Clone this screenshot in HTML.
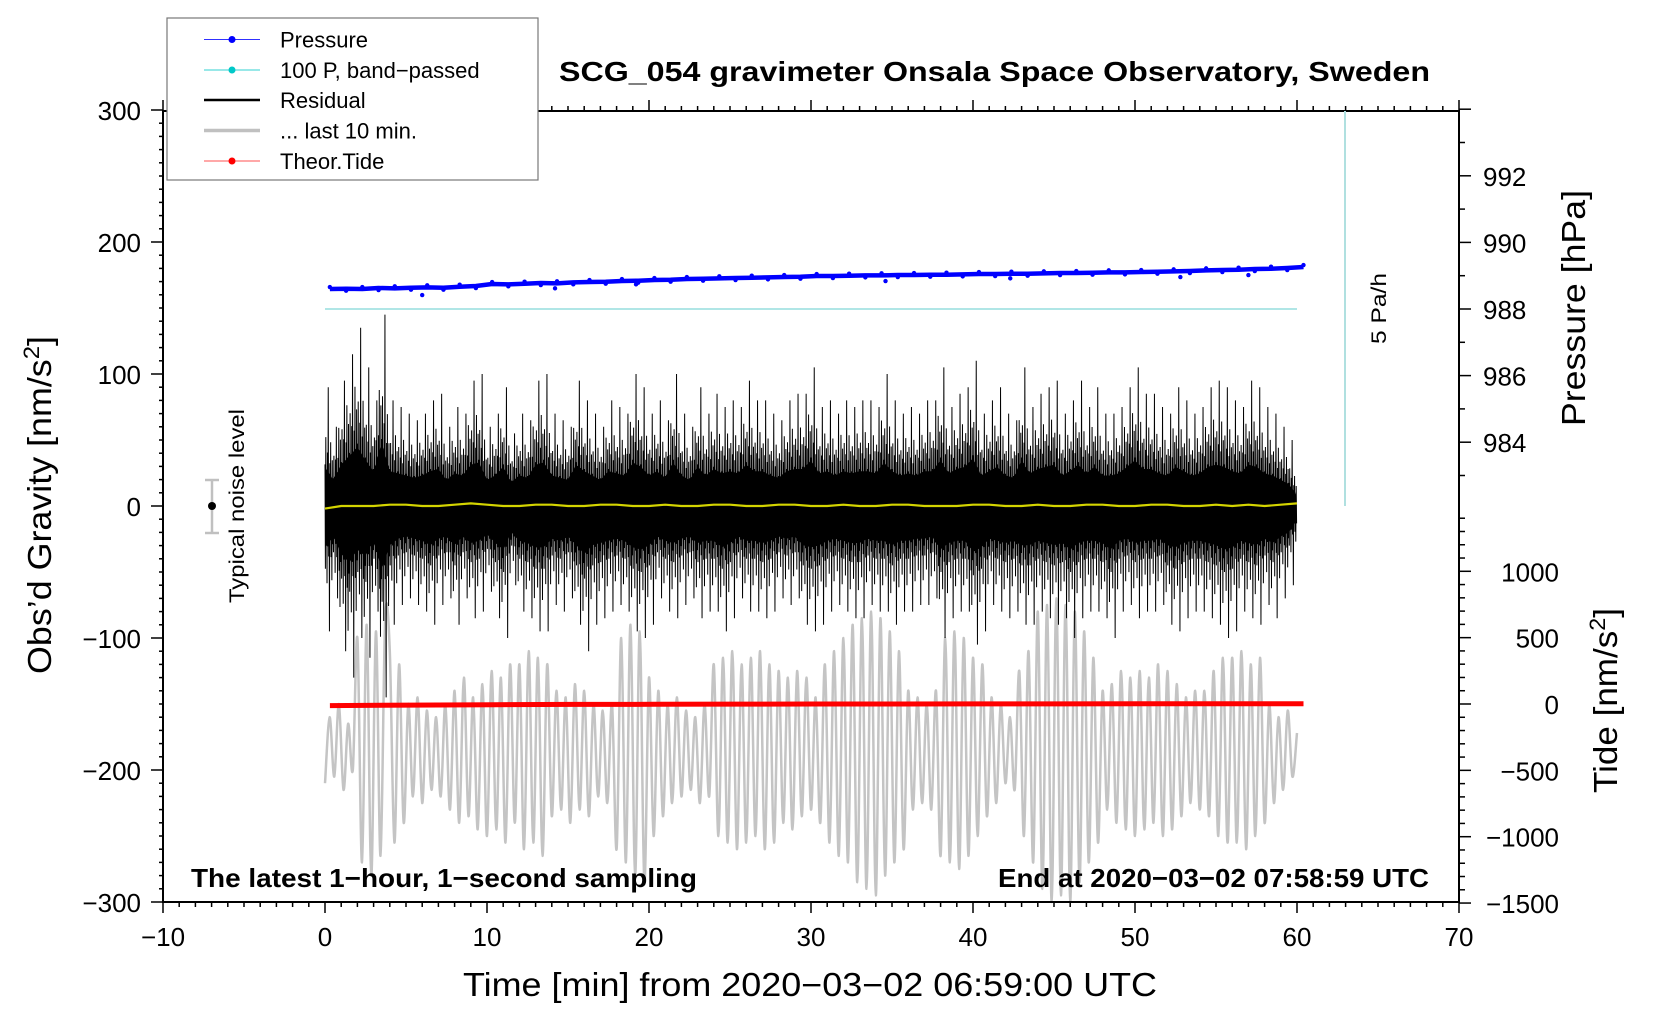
<!DOCTYPE html>
<html><head><meta charset="utf-8"><title>SCG_054 gravimeter</title>
<style>
html,body{margin:0;padding:0;background:#fff;}
svg{display:block;font-family:"Liberation Sans",Arial,sans-serif;}
</style></head>
<body>
<svg id="chart" width="1660" height="1020" viewBox="0 0 1660 1020" xmlns="http://www.w3.org/2000/svg">
  <rect x="0" y="0" width="1660" height="1020" fill="#fff"/>
  <g id="plot"></g>
  <g id="axes"></g>
  <rect x="163" y="111" width="1296" height="791" fill="none" stroke="#000" stroke-width="2"/>
  <text x="559" y="81" font-size="28" font-weight="bold" textLength="871" lengthAdjust="spacingAndGlyphs">SCG_054 gravimeter Onsala Space Observatory, Sweden</text>
  <text x="463" y="996" font-size="33" textLength="694" lengthAdjust="spacingAndGlyphs">Time [min] from 2020−03−02 06:59:00 UTC</text>
  <text transform="translate(51,674) rotate(-90)" font-size="33" textLength="338" lengthAdjust="spacingAndGlyphs">Obs’d Gravity [nm/s<tspan font-size="22" dy="-12">2</tspan><tspan dy="12">]</tspan></text>
  <text transform="translate(1585,426) rotate(-90)" font-size="33" textLength="236" lengthAdjust="spacingAndGlyphs">Pressure [hPa]</text>
  <text transform="translate(1617,793) rotate(-90)" font-size="33" textLength="185" lengthAdjust="spacingAndGlyphs">Tide [nm/s<tspan font-size="22" dy="-12">2</tspan><tspan dy="12">]</tspan></text>
  <text x="191" y="887" font-size="26" font-weight="bold" textLength="506" lengthAdjust="spacingAndGlyphs">The latest 1−hour, 1−second sampling</text>
  <text x="998" y="887" font-size="26" font-weight="bold" textLength="431" lengthAdjust="spacingAndGlyphs">End at 2020−03−02 07:58:59 UTC</text>
  <text transform="translate(244,603) rotate(-90)" font-size="21" textLength="194" lengthAdjust="spacingAndGlyphs">Typical noise level</text>
  <g stroke="#c0c0c0" stroke-width="2.5">
    <line x1="212" y1="480" x2="212" y2="533"/><line x1="205" y1="480" x2="219" y2="480"/><line x1="205" y1="533" x2="219" y2="533"/>
  </g>
  <circle cx="212" cy="506" r="4" fill="#000"/>
  <line x1="1345" y1="111" x2="1345" y2="506" stroke="#b0e0e0" stroke-width="2"/>
  <text transform="translate(1386,344) rotate(-90)" font-size="21" textLength="71" lengthAdjust="spacingAndGlyphs">5 Pa/h</text>
  <g>
    <rect x="167" y="18" width="371" height="162" fill="#fff" stroke="#777" stroke-width="1.2"/>
    <g><line x1="204" y1="39.5" x2="260" y2="39.5" stroke="#3030ff" stroke-width="1"/><circle cx="232" cy="39.5" r="3.5" fill="#0000ff"/><text x="280" y="47.5" font-size="22">Pressure</text></g>
    <g><line x1="204" y1="70" x2="260" y2="70" stroke="#30d0d0" stroke-width="1"/><circle cx="232" cy="70" r="3.5" fill="#00c8c8"/><text x="280" y="78" font-size="22">100 P, band−passed</text></g>
    <g><line x1="204" y1="100" x2="260" y2="100" stroke="#000" stroke-width="2.5"/><text x="280" y="108" font-size="22">Residual</text></g>
    <g><line x1="204" y1="130.5" x2="260" y2="130.5" stroke="#c0c0c0" stroke-width="3.5"/><text x="280" y="138.5" font-size="22">... last 10 min.</text></g>
    <g><line x1="204" y1="161" x2="260" y2="161" stroke="#ff5050" stroke-width="1"/><circle cx="232" cy="161" r="3.5" fill="#ff0000"/><text x="280" y="169" font-size="22">Theor.Tide</text></g>
  </g>
</svg>
<script>
// ---------- data ----------
const xTicks = [-10,0,10,20,30,40,50,60,70];
const gravityTicks = [300,200,100,0,-100,-200,-300];
const pressureTicks = [992,990,988,986,984];
const tideTicks = [1000,500,0,-500,-1000,-1500];
// residual envelope, every 0.5 min from 0 to 60 (nm/s^2)
const residualHigh = [90,60,95,115,135,105,80,145,80,75,70,65,70,80,85,60,75,70,95,100,60,70,90,55,70,65,95,100,70,65,60,95,80,70,60,80,75,70,100,90,70,80,65,100,70,60,90,70,85,75,80,75,95,80,80,70,65,80,85,85,105,75,80,70,80,75,80,80,75,100,80,70,75,70,80,80,105,75,85,90,110,70,80,90,70,65,105,75,85,90,95,70,80,95,75,90,70,70,75,90,105,85,85,75,70,90,80,70,75,90,95,90,80,75,95,90,75,70,60,50,25];
const residualLow = [-95,-70,-110,-130,-100,-115,-80,-145,-90,-75,-70,-75,-80,-90,-75,-70,-90,-70,-85,-80,-65,-85,-100,-60,-80,-85,-95,-95,-75,-80,-70,-90,-110,-90,-85,-80,-75,-80,-95,-100,-90,-70,-80,-85,-75,-70,-85,-80,-80,-95,-85,-70,-80,-80,-85,-80,-70,-75,-70,-90,-95,-90,-80,-75,-80,-85,-85,-75,-80,-80,-90,-80,-80,-75,-75,-70,-100,-85,-80,-80,-105,-95,-75,-80,-85,-80,-90,-90,-80,-85,-90,-85,-100,-85,-80,-80,-85,-100,-80,-75,-85,-80,-80,-75,-90,-95,-85,-80,-80,-85,-90,-100,-95,-80,-85,-90,-75,-85,-70,-60,-30];
// running mean of residual, per minute
const residualMean = [-2,0,0,0,1,1,0,0,1,2,1,0,0,1,1,0,0,1,1,0,0,1,0,0,1,1,0,0,1,1,0,0,1,0,0,1,1,0,0,0,1,1,0,0,1,0,0,1,1,0,0,1,1,0,0,1,0,1,0,1,2];
// last-10-min trace, alternating extremes (nm/s^2, plotted on gravity axis)
const lastTenMin = [-210,-160,-205,-150,-215,-165,-200,
 -100,-270,-90,-280,-95,-265,-85,
 -110,-255,-120,-240,-150,-220,-145,
 -225,-155,-215,-160,-220,-150,-230,
 -140,-240,-130,-235,-145,-245,-135,
 -250,-125,-245,-130,-255,-120,-240,
 -120,-260,-110,-255,-115,-265,-120,
 -235,-140,-230,-145,-240,-135,-230,
 -140,-235,-150,-220,-155,-225,-150,
 -260,-100,-270,-90,-280,-95,-285,
 -130,-250,-140,-235,-150,-225,-145,
 -220,-155,-215,-160,-225,-150,-220,
 -120,-250,-115,-255,-110,-260,-120,
 -255,-115,-250,-110,-260,-120,-255,
 -125,-240,-130,-245,-125,-235,-130,
 -230,-145,-240,-120,-255,-110,-265,
 -100,-270,-90,-285,-85,-290,-80,
 -295,-85,-280,-95,-270,-110,-260,
 -140,-230,-145,-225,-150,-230,-140,
 -265,-100,-270,-95,-275,-100,-265,
 -115,-250,-120,-235,-145,-225,-150,
 -210,-160,-215,-125,-250,-110,-270,
 -80,-290,-75,-300,-70,-295,-75,
 -300,-80,-285,-95,-270,-115,-255,
 -140,-230,-135,-240,-125,-245,-130,
 -250,-125,-245,-130,-240,-120,-250,
 -125,-245,-135,-235,-145,-225,-140,
 -230,-140,-235,-125,-250,-115,-255,
 -115,-255,-110,-260,-120,-250,-115,
 -240,-150,-225,-160,-215,-155,-205,-172];
// pressure (hPa), per minute from 0.3 to 60.4 min
const pressure = [988.60,988.61,988.60,988.63,988.62,988.64,988.65,988.64,988.67,988.69,988.75,988.74,988.76,988.78,988.77,988.80,988.81,988.82,988.84,988.85,988.87,988.88,988.90,988.91,988.92,988.93,988.94,988.95,988.96,988.97,988.99,988.99,989.00,989.01,989.01,989.02,989.02,989.03,989.03,989.04,989.05,989.05,989.06,989.06,989.07,989.08,989.08,989.09,989.10,989.10,989.11,989.12,989.13,989.14,989.16,989.17,989.18,989.20,989.21,989.23,989.26];
const pressureOutlierTimes = [6.0,14.2,19.2,34.6,42.3,52.8,57.0];
const pressureOutlierValues = [988.42,988.62,988.74,988.84,988.92,988.96,989.02];
const bandPassedLevel = 988;
// theoretical tide (nm/s^2), every 5 min from 0.3 to 60.4
const tide = [-12,-8,-5,-3,-2,-1,0,0,1,1,2,2,2];

// ---------- scales ----------
const X = t => 325 + 16.2 * t;
const G = g => 506 - 1.32 * g;
const P = p => 309 - (p - 988) * 33.3;
const T = v => 704 - v * 0.1327;
const NS = 'http://www.w3.org/2000/svg';
const plot = document.getElementById('plot');
const axes = document.getElementById('axes');
function mk(tag, attrs, parent) {
  const el = document.createElementNS(NS, tag);
  for (const k in attrs) el.setAttribute(k, attrs[k]);
  parent.appendChild(el);
  return el;
}

// ---------- axes ticks ----------
for (let m = -10; m <= 70; m++) {
  const major = m % 10 === 0;
  const len = major ? 11 : 5;
  const tb = mk('line', {x1: X(m), x2: X(m), y1: 902, y2: 902 + len, stroke: '#000', 'stroke-width': 1.5}, axes);
  
  
  const tt = mk('line', {x1: X(m), x2: X(m), y1: 111, y2: 111 - len, stroke: '#000', 'stroke-width': 1.5}, axes);
  
  
}
xTicks.forEach(v => {
  const t = mk('text', {x: X(v), y: 946, 'font-size': 26, 'text-anchor': 'middle'}, axes);
  t.textContent = v < 0 ? '−' + Math.abs(v) : String(v);
  
  
});
for (let g = -300; g <= 300; g += 10) {
  const major = g % 100 === 0;
  const tk = mk('line', {x1: 163 - (major ? 12 : 4), x2: 163, y1: G(g), y2: G(g), stroke: '#000', 'stroke-width': 1.5}, axes);
  
  
}
gravityTicks.forEach(v => {
  const t = mk('text', {x: 141, y: G(v) + 10, 'font-size': 26, 'text-anchor': 'end'}, axes);
  t.textContent = v < 0 ? '−' + Math.abs(v) : String(v);
  
  
});
for (let p = 983; p <= 994; p++) {
  const major = p % 2 === 0;
  const tk = mk('line', {x1: 1459, x2: 1459 + (major ? 12 : 6), y1: P(p), y2: P(p), stroke: '#000', 'stroke-width': 1.5}, axes);
  
  
}
pressureTicks.forEach(v => {
  const t = mk('text', {x: 1483, y: P(v) + 10, 'font-size': 26}, axes);
  t.textContent = String(v);
  
  
});
for (let v = -1500; v <= 1400; v += 100) {
  const major = v % 500 === 0;
  const tk = mk('line', {x1: 1459, x2: 1459 + (major ? 12 : 6), y1: T(v), y2: T(v), stroke: '#000', 'stroke-width': 1.5}, axes);
  
  
}
tideTicks.forEach(v => {
  const t = mk('text', {x: 1559, y: T(v) + 10, 'font-size': 26, 'text-anchor': 'end'}, axes);
  t.textContent = v < 0 ? '−' + Math.abs(v) : String(v);
  
  
});

// ---------- series ----------
const bp = mk('line', {x1: X(0), x2: X(60), y1: P(bandPassedLevel), y2: P(bandPassedLevel), stroke: '#b0e6e6', 'stroke-width': 2}, plot);



// last 10 min (gray)
(function () {
  const n = lastTenMin.length, step = 60 / (n - 1);
  const pts = lastTenMin.map((v, i) => [X(i * step), G(v)]);
  let d = 'M' + pts[0][0].toFixed(1) + ',' + pts[0][1].toFixed(1);
  for (let i = 0; i < n - 1; i++) {
    const p0 = pts[Math.max(0, i - 1)], p1 = pts[i], p2 = pts[i + 1], p3 = pts[Math.min(n - 1, i + 2)];
    const c1x = p1[0] + (p2[0] - p0[0]) / 6, c1y = p1[1] + (p2[1] - p0[1]) / 6;
    const c2x = p2[0] - (p3[0] - p1[0]) / 6, c2y = p2[1] - (p3[1] - p1[1]) / 6;
    d += 'C' + c1x.toFixed(1) + ',' + c1y.toFixed(1) + ' ' + c2x.toFixed(1) + ',' + c2y.toFixed(1) + ' ' + p2[0].toFixed(1) + ',' + p2[1].toFixed(1);
  }
  const gp = mk('path', {d: d, fill: 'none', stroke: '#c4c4c4', 'stroke-width': 2.5}, plot);
  
  
})();

// residual (black): dense zigzag between envelope values, with a fixed
// sub-sample shape pattern that mixes neighbouring envelope values
(function () {
  const n = residualHigh.length, step = 60 / (n - 1);
  const shapeHi = [0.35, 0.6, 0.25, 0.5, 1.0, 0.3, 0.45, 0.7, 0.3, 0.55];
  const shapeLo = [0.5, 0.3, 0.65, 0.35, 0.45, 1.0, 0.3, 0.5, 0.75, 0.4];
  const sub = shapeHi.length;
  const top = [], bot = [];
  let zz = '';
  for (let i = 0; i < n - 1; i++) {
    for (let k = 0; k < sub; k++) {
      const f = k / sub;
      const t = (i + f) * step;
      const hi = residualHigh[i] * (1 - f) + residualHigh[i + 1] * f;
      const lo = residualLow[i] * (1 - f) + residualLow[i + 1] * f;
      const peakHi = (k === 4) ? residualHigh[i] : hi * shapeHi[k];
      const peakLo = (k === 5) ? residualLow[i] : lo * shapeLo[k];
      zz += (zz ? 'L' : 'M') + X(t).toFixed(2) + ',' + G(peakHi).toFixed(1);
      zz += 'L' + X(t + step / sub / 2).toFixed(2) + ',' + G(peakLo).toFixed(1);
      if (k % 2 === 0) {
        top.push(X(t).toFixed(1) + ',' + G(hi * 0.33).toFixed(1));
        bot.unshift(X(t).toFixed(1) + ',' + G(lo * 0.33).toFixed(1));
      }
    }
  }
  const cp = mk('polygon', {points: top.concat(bot).join(' '), fill: '#000'}, plot);
  
  
  const rp = mk('path', {d: zz, fill: 'none', stroke: '#000', 'stroke-width': 1}, plot);
  
  
  const mpts = residualMean.map((v, i) => X(i * 60 / (residualMean.length - 1)).toFixed(1) + ',' + G(v).toFixed(1)).join(' ');
  const ml = mk('polyline', {points: mpts, fill: 'none', stroke: '#d4d400', 'stroke-width': 2.2}, plot);
  
  
})();

// pressure (blue)
(function () {
  const n = pressure.length, step = (60.4 - 0.3) / (n - 1);
  const pts = pressure.map((v, i) => X(0.3 + i * step).toFixed(1) + ',' + P(v).toFixed(1)).join(' ');
  const pl = mk('polyline', {points: pts, fill: 'none', stroke: '#0000ff', 'stroke-width': 4.5, 'stroke-linejoin': 'round'}, plot);
  
  
  pressure.forEach((v, i) => {
    const c = mk('circle', {cx: X(0.3 + i * step), cy: P(v) + (i % 2 ? 2 : -2), r: 2.2, fill: '#0000ff'}, plot);
    
    
  });
  pressureOutlierTimes.forEach((t, i) => {
    const c = mk('circle', {cx: X(t), cy: P(pressureOutlierValues[i]), r: 2.2, fill: '#0000ff'}, plot);
    
    
  });
})();

// theoretical tide (red)
(function () {
  const n = tide.length, step = (60.4 - 0.3) / (n - 1);
  const pts = tide.map((v, i) => X(0.3 + i * step).toFixed(1) + ',' + T(v).toFixed(1)).join(' ');
  const tl = mk('polyline', {points: pts, fill: 'none', stroke: '#ff0000', 'stroke-width': 5}, plot);
  
  
})();
</script>
</body></html>
